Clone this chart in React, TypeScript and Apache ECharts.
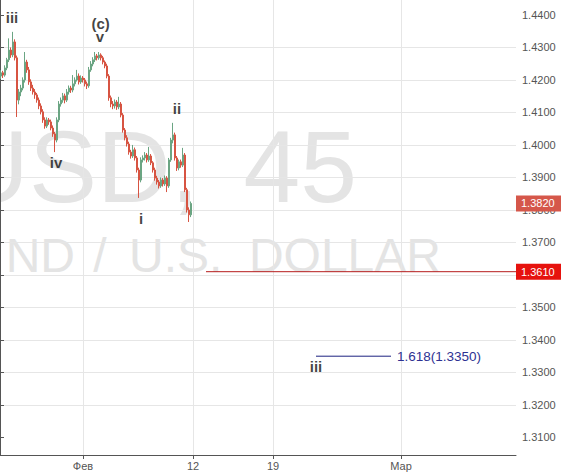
import React, { useEffect, useRef } from 'react';
import * as echarts from 'echarts';

// 45-minute candles: [open, close, low, high]
const candles: number[][] = [
  [1.4212, 1.4222, 1.4203, 1.4230],
  [1.4222, 1.4215, 1.4206, 1.4228],
  [1.4215, 1.4237, 1.4210, 1.4245],
  [1.4237, 1.4262, 1.4230, 1.4268],
  [1.4262, 1.4292, 1.4255, 1.4328],
  [1.4292, 1.4277, 1.4268, 1.4300],
  [1.4277, 1.4317, 1.4270, 1.4348],
  [1.4317, 1.4268, 1.4260, 1.4325],
  [1.4268, 1.4138, 1.4086, 1.4275],
  [1.4138, 1.4163, 1.4125, 1.4172],
  [1.4163, 1.4175, 1.4150, 1.4185],
  [1.4175, 1.4200, 1.4168, 1.4208],
  [1.4200, 1.4255, 1.4192, 1.4286],
  [1.4255, 1.4231, 1.4222, 1.4262],
  [1.4231, 1.4194, 1.4185, 1.4240],
  [1.4194, 1.4175, 1.4166, 1.4202],
  [1.4175, 1.4163, 1.4155, 1.4185],
  [1.4163, 1.4154, 1.4142, 1.4172],
  [1.4154, 1.4138, 1.4130, 1.4160],
  [1.4138, 1.4120, 1.4110, 1.4146],
  [1.4120, 1.4102, 1.4094, 1.4128],
  [1.4102, 1.4077, 1.4068, 1.4110],
  [1.4077, 1.4058, 1.4050, 1.4085],
  [1.4058, 1.4077, 1.4052, 1.4085],
  [1.4077, 1.4071, 1.4062, 1.4083],
  [1.4071, 1.4052, 1.4045, 1.4078],
  [1.4052, 1.4034, 1.4025, 1.4060],
  [1.4034, 1.4015, 1.3978, 1.4040],
  [1.4015, 1.4077, 1.4008, 1.4085],
  [1.4077, 1.4126, 1.4070, 1.4135],
  [1.4126, 1.4138, 1.4118, 1.4146],
  [1.4138, 1.4151, 1.4130, 1.4160],
  [1.4151, 1.4138, 1.4128, 1.4158],
  [1.4138, 1.4163, 1.4132, 1.4172],
  [1.4163, 1.4175, 1.4155, 1.4183],
  [1.4175, 1.4169, 1.4160, 1.4182],
  [1.4169, 1.4188, 1.4162, 1.4215],
  [1.4188, 1.4200, 1.4180, 1.4208],
  [1.4200, 1.4212, 1.4195, 1.4231],
  [1.4212, 1.4194, 1.4186, 1.4220],
  [1.4194, 1.4206, 1.4188, 1.4214],
  [1.4206, 1.4200, 1.4192, 1.4212],
  [1.4200, 1.4188, 1.4180, 1.4206],
  [1.4188, 1.4182, 1.4172, 1.4195],
  [1.4182, 1.4231, 1.4176, 1.4240],
  [1.4231, 1.4249, 1.4225, 1.4258],
  [1.4249, 1.4262, 1.4242, 1.4270],
  [1.4262, 1.4274, 1.4255, 1.4286],
  [1.4274, 1.4268, 1.4260, 1.4280],
  [1.4268, 1.4277, 1.4262, 1.4286],
  [1.4277, 1.4268, 1.4260, 1.4282],
  [1.4268, 1.4255, 1.4248, 1.4274],
  [1.4255, 1.4243, 1.4236, 1.4260],
  [1.4243, 1.4212, 1.4205, 1.4250],
  [1.4212, 1.4145, 1.4136, 1.4218],
  [1.4145, 1.4126, 1.4116, 1.4152],
  [1.4126, 1.4120, 1.4110, 1.4135],
  [1.4120, 1.4132, 1.4112, 1.4140],
  [1.4132, 1.4117, 1.4108, 1.4138],
  [1.4117, 1.4126, 1.4110, 1.4148],
  [1.4126, 1.4092, 1.4085, 1.4132],
  [1.4092, 1.4046, 1.4038, 1.4098],
  [1.4046, 1.4022, 1.4014, 1.4052],
  [1.4022, 1.4003, 1.3995, 1.4030],
  [1.4003, 1.3978, 1.3970, 1.4010],
  [1.3978, 1.3966, 1.3958, 1.3985],
  [1.3966, 1.3985, 1.3960, 1.4000],
  [1.3985, 1.3960, 1.3952, 1.3992],
  [1.3960, 1.3923, 1.3915, 1.3966],
  [1.3923, 1.3892, 1.3837, 1.3930],
  [1.3892, 1.3954, 1.3885, 1.3962],
  [1.3954, 1.3960, 1.3946, 1.3968],
  [1.3960, 1.3969, 1.3952, 1.3978],
  [1.3969, 1.3954, 1.3946, 1.3975],
  [1.3954, 1.3966, 1.3948, 1.3994],
  [1.3966, 1.3945, 1.3938, 1.3972],
  [1.3945, 1.3923, 1.3915, 1.3950],
  [1.3923, 1.3898, 1.3890, 1.3930],
  [1.3898, 1.3886, 1.3878, 1.3905],
  [1.3886, 1.3874, 1.3866, 1.3892],
  [1.3874, 1.3892, 1.3868, 1.3900],
  [1.3892, 1.3880, 1.3872, 1.3898],
  [1.3880, 1.3898, 1.3874, 1.3906],
  [1.3898, 1.3874, 1.3855, 1.3904],
  [1.3874, 1.3954, 1.3868, 1.3960],
  [1.3954, 1.4015, 1.3948, 1.4022],
  [1.4015, 1.4031, 1.4005, 1.4068],
  [1.4031, 1.3960, 1.3952, 1.4038],
  [1.3960, 1.3929, 1.3920, 1.3966],
  [1.3929, 1.3948, 1.3922, 1.3955],
  [1.3948, 1.3938, 1.3930, 1.3955],
  [1.3938, 1.3969, 1.3932, 1.3991],
  [1.3969, 1.3862, 1.3855, 1.3975],
  [1.3862, 1.3800, 1.3792, 1.3868],
  [1.3800, 1.3785, 1.3763, 1.3808],
  [1.3785, 1.3820, 1.3778, 1.3826],
];

// time axis (in bar slots)
const xTickPositions = [41.5, 96.5, 136.5, 200.5];
const xTickLabels = ['Фев', '12', '19', 'Мар'];
const xMin = 0;
const xMax = 258;

// price axis
const yMin = 1.3046;
const yMax = 1.4446;
const yTicks = [1.31, 1.32, 1.33, 1.34, 1.35, 1.36, 1.37, 1.38, 1.39, 1.40, 1.41, 1.42, 1.43, 1.44];

// levels
const lastPrice = 1.382;
const supportLevel = 1.361;
const supportStart = 103;
const fibRatio = 1.618;
const fibLevel = 1.335;
const fibStart = 158;
const fibEnd = 195.5;

// Elliott wave labels: [slot, price, text]
const waveLabels: [number, number, string][] = [
  [6, 1.4391, 'iii'],
  [50.3, 1.4375, '(c)'],
  [50, 1.4334, 'v'],
  [28, 1.3945, 'iv'],
  [70.5, 1.3775, 'i'],
  [88.5, 1.4111, 'ii'],
  [158, 1.3317, 'iii'],
];

const watermarkSymbol = ['USD,', '45'];
const watermarkName = ['ND', '/', 'U.S.', 'DOLLAR'];

const FONT = 'Liberation Sans, Arial, sans-serif';

export default function App() {
  const ref = useRef<HTMLDivElement>(null);
  useEffect(() => {
    if (!ref.current) return;
    const chart = echarts.init(ref.current, undefined, { renderer: 'svg' });
    const wmColor = '#e4e4e4';
    const wm = (text: string, x: number, y: number, size: number, align: string) => ({
      type: 'text', z: 0, silent: true,
      style: { text, x, y, fill: wmColor, font: `${size}px ${FONT}`, textAlign: align, textVerticalAlign: 'middle', align, verticalAlign: 'middle' },
    });
    const priceTag = (bg: string) => ({
      show: true, distance: 0, backgroundColor: bg, color: '#ffffff', fontSize: 11, fontFamily: FONT, padding: [3, 8, 2, 5],
    });
    chart.setOption({
      animation: false,
      backgroundColor: '#ffffff',
      grid: { left: 0, right: 45, top: 0, bottom: 18, containLabel: false },
      graphic: [
        wm(watermarkSymbol[0], 199, 167, 102, 'right'),
        wm(watermarkSymbol[1], 357, 167, 102, 'right'),
        wm(watermarkName[0], 75, 255, 48, 'right'),
        wm(watermarkName[1], 100, 255, 48, 'center'),
        wm(watermarkName[2], 129, 255, 48, 'left'),
        wm(watermarkName[3], 441, 255, 48, 'right'),
      ],
      xAxis: {
        type: 'value', min: xMin, max: xMax,
        axisLine: { show: true, onZero: false, lineStyle: { color: '#555', width: 1 } },
        axisTick: { show: true, length: 4, customValues: xTickPositions, lineStyle: { color: '#555' } },
        axisLabel: {
          customValues: xTickPositions, color: '#555', fontSize: 11, margin: 5, fontFamily: FONT,
          formatter: (v: number) => {
            let best = 0;
            xTickPositions.forEach((p, i) => { if (Math.abs(p - v) < Math.abs(xTickPositions[best] - v)) best = i; });
            return xTickLabels[best];
          },
        },
        splitLine: { show: true, lineStyle: { color: '#e6e6e6', width: 1 } },
      },
      yAxis: {
        type: 'value', position: 'right', min: yMin, max: yMax, splitNumber: 14, scale: true,
        axisLine: { show: true, lineStyle: { color: '#555', width: 1 } },
        axisTick: { show: true, length: 4, customValues: yTicks, lineStyle: { color: '#555' } },
        axisLabel: {
          customValues: yTicks, color: '#555', fontSize: 11, margin: 6, fontFamily: FONT,
          formatter: (v: number) => v.toFixed(4),
        },
        splitLine: { show: true, showMinLine: false, showMaxLine: false, lineStyle: { color: '#e6e6e6', width: 1 } },
      },
      series: [
        {
          type: 'candlestick',
          data: candles.map((c, i) => [i + 0.5, c[0], c[1], c[2], c[3]]),
          encode: { x: 0, y: [1, 2, 3, 4] },
          barWidth: 1.4,
          z: 3,
          itemStyle: { color: '#6ba583', color0: '#d75442', borderColor: '#6ba583', borderColor0: '#d75442', borderWidth: 1 },
        },
        {
          type: 'line', name: 'support', z: 4, silent: true, symbol: 'none',
          data: [[supportStart, supportLevel], [xMax, supportLevel]],
          lineStyle: { color: '#b51c1c', width: 1 },
          itemStyle: { color: '#b51c1c' },
          endLabel: { ...priceTag('#e6120e'), formatter: supportLevel.toFixed(4) },
        },
        {
          type: 'line', name: 'last', z: 4, silent: true, symbol: 'none',
          data: [[candles.length - 0.5, lastPrice], [xMax, lastPrice]],
          lineStyle: { color: 'rgba(0,0,0,0)', width: 1 },
          itemStyle: { color: '#d5574a' },
          endLabel: { ...priceTag('#d5574a'), formatter: lastPrice.toFixed(4) },
        },
        {
          type: 'line', name: 'fib', z: 4, silent: true, symbol: 'none',
          data: [[fibStart, fibLevel], [fibEnd, fibLevel]],
          lineStyle: { color: '#1c2080', width: 1 },
          itemStyle: { color: '#1c2080' },
          endLabel: { show: true, distance: 6, formatter: `${fibRatio}(${fibLevel.toFixed(4)})`, color: '#2e3192', fontSize: 13.5, fontFamily: FONT },
        },
        {
          type: 'scatter',
          z: 5,
          symbolSize: 0,
          silent: true,
          data: waveLabels.map((w) => [w[0], w[1]]),
          label: {
            show: true, position: 'inside', color: '#111', fontSize: 15, fontWeight: 'bold', fontFamily: FONT,
            formatter: (p: any) => waveLabels[p.dataIndex][2],
          },
        },
      ],
    });
    return () => chart.dispose();
  }, []);
  return <div ref={ref} style={{ position: 'fixed', left: 0, top: 0, width: 561, height: 473 }} />;
}
